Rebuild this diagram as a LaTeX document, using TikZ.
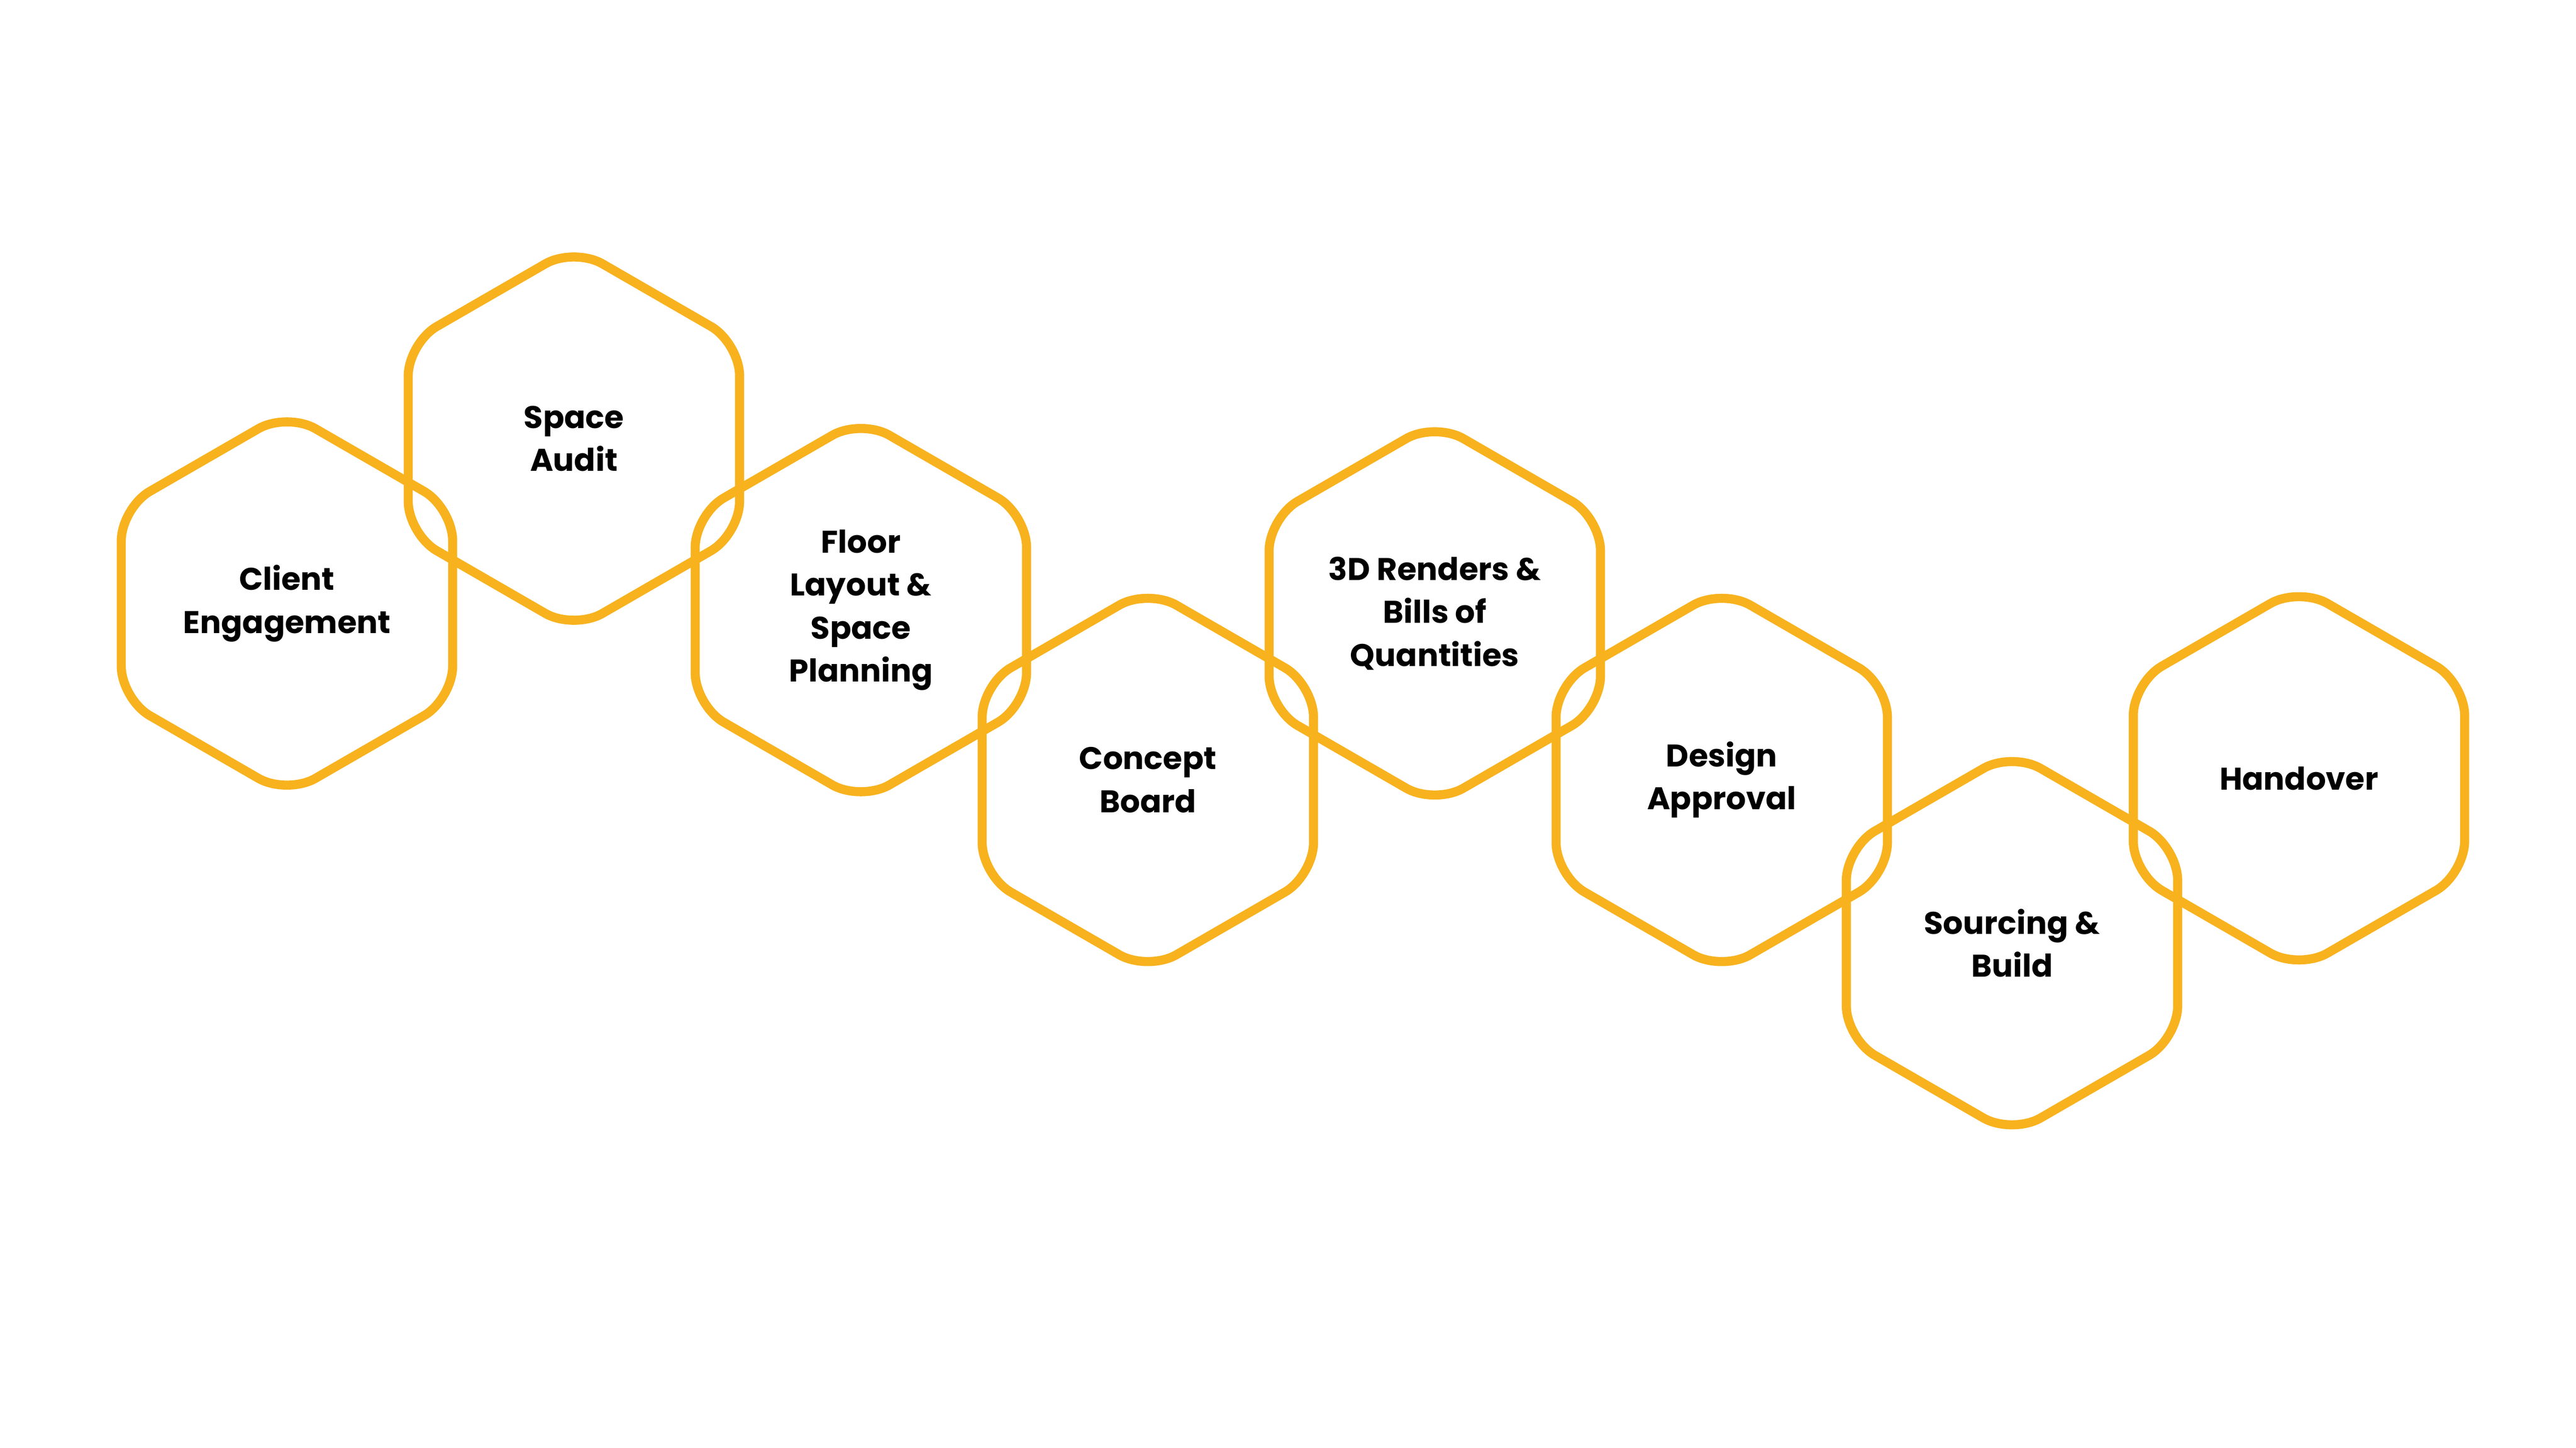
\documentclass[tikz,border=0pt]{standalone}
\usepackage{fontspec}
\setmainfont{Poppins}
\usetikzlibrary{shapes.geometric}
\definecolor{hexo}{HTML}{F7B21E}
\begin{document}
\begin{tikzpicture}[x=1pt,y=-1pt,
  hex/.style={regular polygon,regular polygon sides=6,shape border rotate=30,
    minimum size=232pt,inner sep=0pt,draw=hexo,line width=5.5pt,rounded corners=20pt,
    align=center,font=\fontsize{19}{26}\selectfont\bfseries,text=black}]
\useasboundingbox (0,0) rectangle (1562,878);
\node[hex] (a) at (174,366) {Client\\Engagement};
\node[hex] (b) at (348,266) {Space\\Audit};
\node[hex] (c) at (522,370) {Floor\\Layout \&\\Space\\Planning};
\node[hex] (d) at (696,473) {Concept\\Board};
\node[hex] (e) at (870,372) {3D Renders \&\\Bills of\\Quantities};
\node[hex] (f) at (1044,473) {Design\\Approval};
\node[hex] (g) at (1220,572) {Sourcing \&\\Build};
\node[hex] (h) at (1394,472) {Handover};
\end{tikzpicture}
\end{document}
